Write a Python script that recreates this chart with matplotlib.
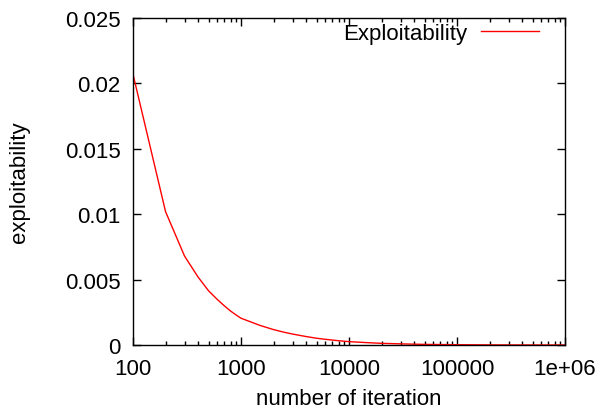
import matplotlib
matplotlib.use("Agg")
import matplotlib.pyplot as plt
from matplotlib.ticker import LogLocator, FixedLocator, NullFormatter

plt.rcParams['font.family'] = ['Liberation Sans', 'DejaVu Sans']

iterations = [100, 200, 300, 400, 500, 600, 700, 800, 900, 1000,
              1500, 2000, 2500, 3000, 4000, 5000, 6000, 7000, 8000, 10000,
              15000, 20000, 30000, 50000, 100000, 200000, 500000, 1000000]
exploitability = [0.0207, 0.0102, 0.0068, 0.0052, 0.00415, 0.0035, 0.003, 0.0026, 0.0023, 0.00205,
                  0.0015, 0.00118, 0.00098, 0.00084, 0.00065, 0.00052, 0.00044, 0.00038, 0.00033, 0.00026,
                  0.00018, 0.00013, 0.00009, 0.00005, 0.000025, 0.000012, 0.000005, 0.0000025]

x_ticks = [100, 1000, 10000, 100000, 1000000]
x_labels = ['100', '1000', '10000', '100000', '1e+06']
y_ticks = [0, 0.005, 0.01, 0.015, 0.02, 0.025]
y_labels = ['0', '0.005', '0.01', '0.015', '0.02', '0.025']

fig = plt.figure(figsize=(6.03, 4.10), dpi=100)
ax = fig.add_axes([0.2206, 0.156, 0.7164, 0.7977])

ax.plot(iterations, exploitability, color='#ff0000', lw=1.0, label='Exploitability')

ax.set_xscale('log')
ax.set_xlim(100, 1000000)
ax.set_ylim(0, 0.025)

ax.xaxis.set_major_locator(FixedLocator(x_ticks))
ax.set_xticklabels(x_labels)
ax.xaxis.set_minor_locator(LogLocator(base=10, subs=range(2, 10)))
ax.xaxis.set_minor_formatter(NullFormatter())
ax.set_yticks(y_ticks)
ax.set_yticklabels(y_labels)

ax.tick_params(axis='both', which='both', direction='in', top=True, right=True,
               labelsize=16, colors='black')
ax.tick_params(which='major', length=6, width=1, pad=9)
ax.tick_params(which='minor', length=3, width=1)
for s in ax.spines.values():
    s.set_linewidth(1.0)

ax.set_xlabel('number of iteration', fontsize=16, labelpad=7)
ax.set_ylabel('exploitability', fontsize=16, labelpad=25)

leg = ax.legend(loc='upper right', bbox_to_anchor=(0.9606, 1.012), frameon=False,
                fontsize=16, markerfirst=False, handlelength=2.6,
                borderaxespad=0, handletextpad=0.65)

fig.savefig('out.png', dpi=100)
